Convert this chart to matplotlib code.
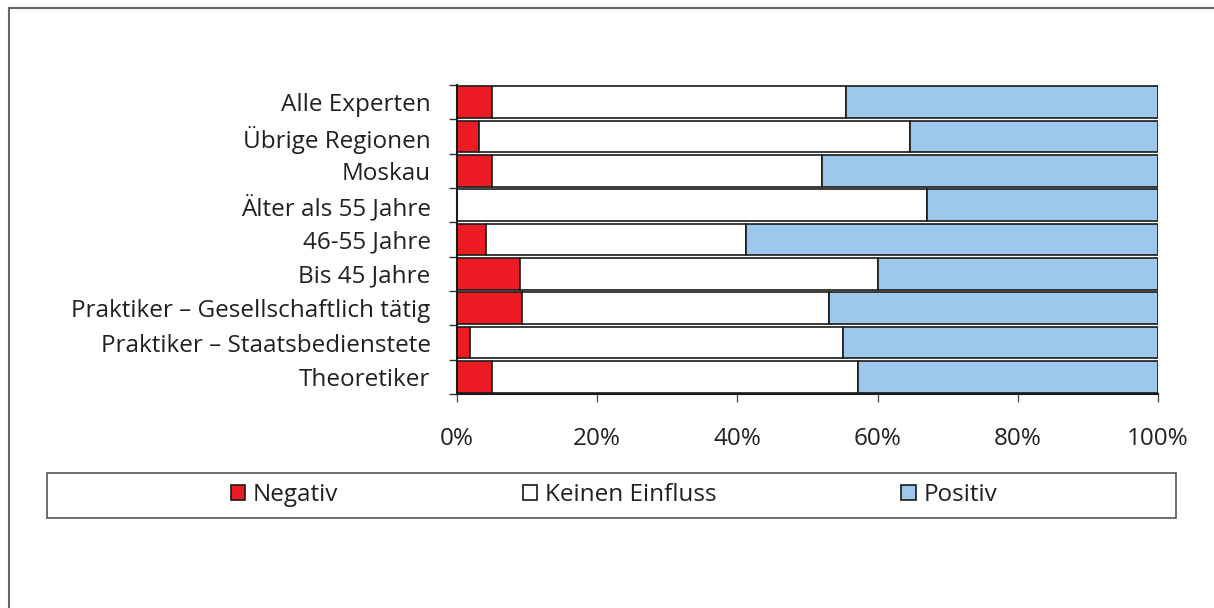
import matplotlib.pyplot as plt
from matplotlib.patches import Rectangle
from matplotlib.lines import Line2D

# Gruppen von oben nach unten
gruppen = ["Alle Experten", "Übrige Regionen", "Moskau", "Älter als 55 Jahre",
           "46-55 Jahre", "Bis 45 Jahre", "Praktiker – Gesellschaftlich tätig",
           "Praktiker – Staatsbedienstete", "Theoretiker"]
negativ = [5.0, 3.1, 5.0, 0.0, 4.1, 9.0, 9.3, 1.9, 5.0]
kein_einfluss = [50.5, 61.5, 47.1, 67.0, 37.1, 51.0, 43.8, 53.2, 52.2]
positiv = [44.5, 35.4, 47.9, 33.0, 58.8, 40.0, 46.9, 44.9, 42.8]

serien = ["Negativ", "Keinen Einfluss", "Positiv"]
farben = ["#ed1c24", "#ffffff", "#9dc8eb"]
xticks = [0, 20, 40, 60, 80, 100]

textfarbe = "#231f20"
plt.rcParams['font.family'] = ['Open Sans', 'DejaVu Sans']
plt.rcParams['font.size'] = 17.5

W, H = 1214, 608
fig = plt.figure(figsize=(W / 100, H / 100), dpi=100)
ax = fig.add_axes([457 / W, 1 - 394 / H, (1158 - 457) / W, (394 - 85) / H])

pos = list(range(len(gruppen)))
links = [0.0] * len(gruppen)
balken = []
for name, werte, farbe in zip(serien, [negativ, kein_einfluss, positiv], farben):
    b = ax.barh(pos, werte, left=links, height=0.93, color=farbe,
                edgecolor="#1a1a1a", linewidth=1.2, label=name)
    balken.append(b)
    links = [l + w for l, w in zip(links, werte)]

ax.set_xlim(0, 100)
ax.set_ylim(len(gruppen) - 0.5, -0.5)

# Teilstriche an den Grenzen, Beschriftung in der Mitte
ax.set_yticks([p - 0.5 for p in pos] + [len(gruppen) - 0.5])
ax.set_yticklabels([])
ax.set_yticks(pos, minor=True)
ax.set_yticklabels(gruppen, minor=True, color=textfarbe)
ax.tick_params(axis="y", which="minor", length=0, pad=19)
ax.tick_params(axis="y", which="major", length=6, width=1, color="#333333")

ax.set_xticks(xticks)
ax.set_xticklabels([f"{t}%" for t in xticks], color=textfarbe)
ax.tick_params(axis="x", length=6, width=1, color="#555555", pad=18)

for s in ["top", "right"]:
    ax.spines[s].set_visible(False)
for s in ["left", "bottom"]:
    ax.spines[s].set_color("#1a1a1a")
    ax.spines[s].set_linewidth(1.5)

# Legende mit eigenem Rahmen
fig.legend(handles=balken, labels=serien, ncol=3, frameon=False, loc="center",
           bbox_to_anchor=(614 / W, 1 - 495 / H), columnspacing=7.6,
           handlelength=0.58, handleheight=0.58, handletextpad=0.33,
           labelcolor=textfarbe)
fig.patches.append(Rectangle((47 / W, 1 - 518 / H), (1176 - 47) / W, 45 / H,
                             transform=fig.transFigure, fill=False,
                             edgecolor="#555555", linewidth=1.2))

# Außenrahmen
fig.lines.append(Line2D([8.5 / W, 1], [1 - 7.5 / H, 1 - 7.5 / H],
                        transform=fig.transFigure, color="#666666", linewidth=1.5))
fig.lines.append(Line2D([8.5 / W, 8.5 / W], [0, 1 - 7.5 / H],
                        transform=fig.transFigure, color="#666666", linewidth=1.5))

fig.savefig("out.png", dpi=100, facecolor="white")
